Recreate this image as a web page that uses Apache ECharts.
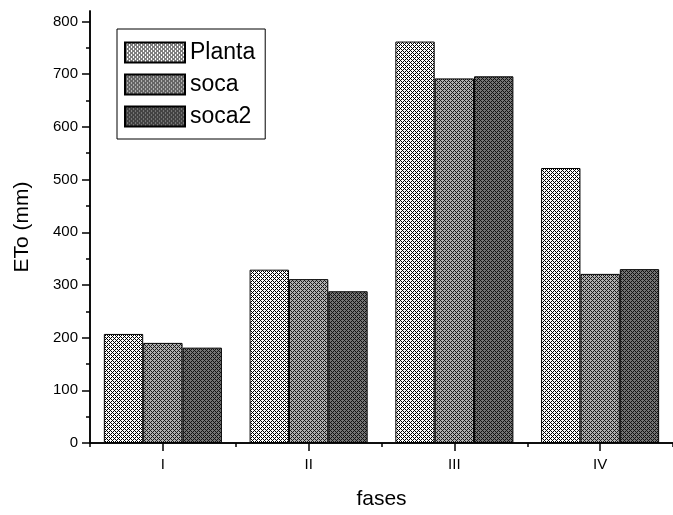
<!DOCTYPE html>
<html>
<head>
<meta charset="utf-8">
<script src="https://cdn.jsdelivr.net/npm/echarts@6/dist/echarts.min.js"></script>
<style>
html,body{margin:0;padding:0;background:#fff;}
#chart{width:673px;height:515px;}
</style>
</head>
<body>
<div id="chart"></div>
<script>
var categories = ['I', 'II', 'III', 'IV'];
var seriesNames = ['Planta', 'soca', 'soca2'];
var planta = [207, 329, 762, 522];
var soca = [190, 311, 692, 321];
var soca2 = [181, 288, 696, 330];
var yMajorTicks = [0, 100, 200, 300, 400, 500, 600, 700, 800];
var yMinorTicks = [50, 150, 250, 350, 450, 550, 650, 750];

function hatch(bg, fg) {
  var c = document.createElement('canvas');
  c.width = 4; c.height = 4;
  var ctx = c.getContext('2d');
  ctx.fillStyle = bg;
  ctx.fillRect(0, 0, 4, 4);
  ctx.fillStyle = fg;
  var px = [[0,0],[1,1],[2,2],[3,3],[1,3],[3,1]];
  px.forEach(function (p) { ctx.fillRect(p[0], p[1], 1, 1); });
  return { image: c, repeat: 'repeat' };
}

var fills = [hatch('#ffffff', '#000000'), hatch('#b0b0b0', '#1a1a1a'), hatch('#747474', '#121212')];
var values = [planta, soca, soca2];

var font = 'Liberation Sans, Arial, sans-serif';
var chart = echarts.init(document.getElementById('chart'), null, {renderer: 'canvas'});

var series = seriesNames.map(function (n, i) {
  return {
    name: n,
    type: 'bar',
    data: values[i],
    barGap: '0%',
    barCategoryGap: '19%',
    itemStyle: { color: fills[i], borderColor: '#000', borderWidth: 1 },
    emphasis: { disabled: true }
  };
});

chart.setOption({
  animation: false,
  backgroundColor: '#fff',
  textStyle: { fontFamily: font, color: '#000' },
  grid: { left: 90, right: -11, top: 11, bottom: 64, containLabel: false },
  legend: {
    orient: 'vertical',
    left: 117, top: 29,
    data: seriesNames,
    itemWidth: 60, itemHeight: 20, itemGap: 9,
    padding: [12, 10, 11, 7],
    borderColor: '#000', borderWidth: 1,
    backgroundColor: '#fff',
    icon: 'rect',
    textStyle: { fontFamily: font, fontSize: 23, lineHeight: 20, color: '#000' }
  },
  xAxis: [{
    type: 'category', data: categories, position: 'bottom',
    name: 'fases', nameLocation: 'middle', nameGap: 46,
    nameTextStyle: { fontFamily: font, fontSize: 21, color: '#000' },
    axisLine: { lineStyle: { color: '#000', width: 1.5 } },
    axisTick: { show: true, alignWithLabel: true, length: 8, lineStyle: { color: '#000', width: 1.5 } },
    axisLabel: { fontFamily: font, fontSize: 15, color: '#000', margin: 14 },
    splitLine: { show: false }
  }, {
    type: 'category', data: categories, position: 'bottom',
    axisLine: { lineStyle: { color: '#000', width: 1.5 } },
    axisTick: { show: true, alignWithLabel: false, length: 4, lineStyle: { color: '#000', width: 1.5 } },
    axisLabel: { show: false },
    splitLine: { show: false }
  }],
  yAxis: [{
    type: 'value', min: 0, max: 820, interval: 100,
    name: 'ETo (mm)', nameLocation: 'middle', nameGap: 57, nameRotate: 90,
    nameTextStyle: { fontFamily: font, fontSize: 21, color: '#000' },
    axisLine: { show: true, lineStyle: { color: '#000', width: 1.5 } },
    axisTick: { show: true, length: 8, customValues: yMajorTicks, lineStyle: { color: '#000', width: 1.5 } },
    axisLabel: { fontFamily: font, fontSize: 15, color: '#000', margin: 12, customValues: yMajorTicks },
    splitLine: { show: false }
  }, {
    type: 'value', min: 0, max: 820, interval: 100, position: 'left',
    axisLine: { show: true, lineStyle: { color: '#000', width: 1.5 } },
    axisTick: { show: true, length: 4, customValues: yMinorTicks, lineStyle: { color: '#000', width: 1.5 } },
    axisLabel: { show: false },
    splitLine: { show: false }
  }],
  series: series
});
</script>
</body>
</html>
